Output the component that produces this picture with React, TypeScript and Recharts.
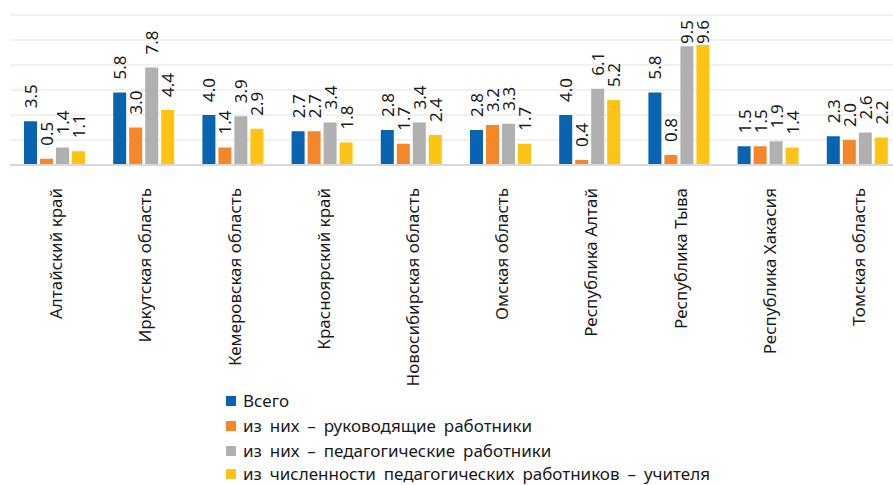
import React from "react";
import { BarChart, Bar, XAxis, YAxis, CartesianGrid, Legend, LabelList } from "recharts";

const categories = [
  "Алтайский край",
  "Иркутская область",
  "Кемеровская область",
  "Красноярский край",
  "Новосибирская область",
  "Омская область",
  "Республика Алтай",
  "Республика Тыва",
  "Республика Хакасия",
  "Томская область",
];
const total = [3.5, 5.8, 4.0, 2.7, 2.8, 2.8, 4.0, 5.8, 1.5, 2.3];
const managers = [0.5, 3.0, 1.4, 2.7, 1.7, 3.2, 0.4, 0.8, 1.5, 2.0];
const pedagogical = [1.4, 7.8, 3.9, 3.4, 3.4, 3.3, 6.1, 9.5, 1.9, 2.6];
const teachers = [1.1, 4.4, 2.9, 1.8, 2.4, 1.7, 5.2, 9.6, 1.4, 2.2];
const yTicks = [0, 2, 4, 6, 8, 10, 12];

const seriesNames = [
  "Всего",
  "из них – руководящие работники",
  "из них – педагогические работники",
  "из численности педагогических работников – учителя",
];
const colors = ["#0864B1", "#F5862A", "#B0B0B0", "#FFC313"];
const keys = ["total", "managers", "pedagogical", "teachers"];

const data = categories.map((c, i) => ({
  name: c,
  total: total[i],
  managers: managers[i],
  pedagogical: pedagogical[i],
  teachers: teachers[i],
}));

const FONT = "'Noto Sans', 'Open Sans', sans-serif";

const renderLabel = (props: any) => {
  const { x, y, width, value } = props;
  const cx = Number(x) + Number(width) / 2;
  const txt = Number(value).toFixed(1);
  const len = txt.length * 8;
  let bottom = Number(y) - 13;
  const minBottom = 20 + len;
  if (bottom < minBottom) bottom = minBottom;
  return (
    <text
      x={cx}
      y={bottom}
      transform={`rotate(-90, ${cx}, ${bottom})`}
      textAnchor="start"
      dominantBaseline="central"
      fontSize={17}
      fontFamily={FONT}
      fill="#1a1a1a"
    >
      {txt}
    </text>
  );
};

const CategoryTick = (props: any) => {
  const { x, y, payload } = props;
  const tx = Number(x) + 1;
  const ty = Number(y) + 15;
  return (
    <text
      x={tx}
      y={ty}
      transform={`rotate(-90, ${tx}, ${ty})`}
      textAnchor="end"
      dominantBaseline="central"
      fontSize={17}
      fontFamily={FONT}
      fill="#1a1a1a"
    >
      {payload.value}
    </text>
  );
};

const LegendContent = () => (
  <div style={{ height: 97, fontFamily: FONT, fontSize: 17, color: "#1a1a1a", wordSpacing: 3.5 }}>
    {seriesNames.map((n, i) => (
      <div
        key={n}
        style={{
          height: i === 3 ? 22 : 25,
          boxSizing: "border-box",
          paddingTop: i === 3 ? 2 : 0,
          display: "flex",
          alignItems: i === 3 ? "flex-start" : "center",
          whiteSpace: "nowrap",
        }}
      >
        <span
          style={{
            display: "inline-block",
            width: 10,
            height: 10,
            background: colors[i],
            marginRight: 7,
            marginTop: i === 3 ? 4 : 0,
          }}
        />
        <span style={{ lineHeight: "17px" }}>{n}</span>
      </div>
    ))}
  </div>
);

export default function App() {
  return (
    <div
      style={{
        position: "absolute",
        left: 0,
        top: 0,
        width: 893,
        height: 485,
        overflow: "hidden",
        background: "#fff",
      }}
    >
      <BarChart
        width={904}
        height={485}
        data={data}
        margin={{ top: 15, right: 2, left: 10, bottom: 0 }}
        barSize={13}
        barGap={3}
      >
        <CartesianGrid horizontal vertical={false} stroke="#EDEDED" strokeWidth={1.5} />
        <YAxis hide domain={[0, 12]} ticks={yTicks} />
        <XAxis
          dataKey="name"
          height={223}
          interval={0}
          tickLine={false}
          axisLine={{ stroke: "#D9D9D9", strokeWidth: 2 }}
          tick={<CategoryTick />}
        />
        <Legend
          verticalAlign="bottom"
          content={<LegendContent />}
          wrapperStyle={{ position: "absolute", left: 226, top: 388, width: 600, height: 97 }}
        />
        {keys.map((k, i) => (
          <Bar key={k} dataKey={k} name={seriesNames[i]} fill={colors[i]} isAnimationActive={false}>
            <LabelList dataKey={k} content={renderLabel} />
          </Bar>
        ))}
      </BarChart>
    </div>
  );
}
